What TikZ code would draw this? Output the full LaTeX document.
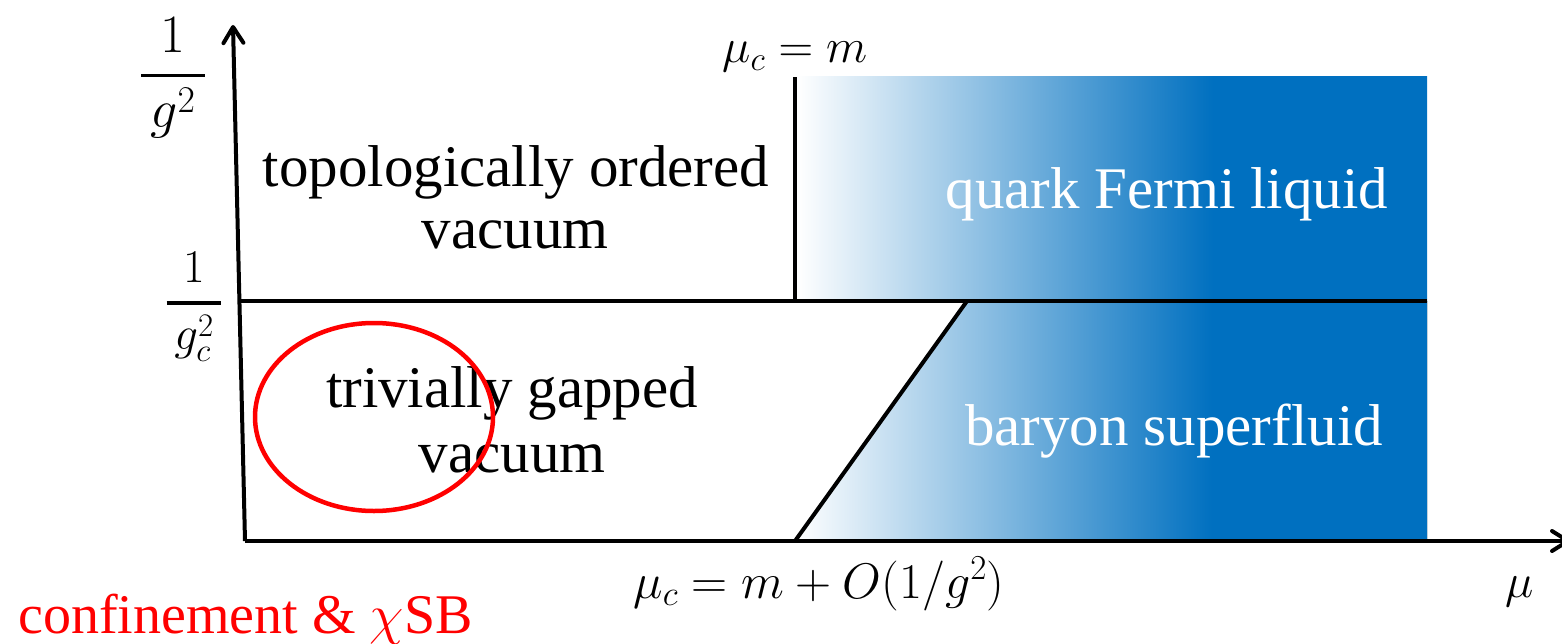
\RequirePackage{fix-cm}
\documentclass[tikz,border=0pt]{standalone}
\usepackage{amsmath}
\usepackage{fontspec}
\setmainfont{Liberation Serif}
\usetikzlibrary{arrows.meta,shapes.geometric}
\definecolor{myblue}{RGB}{0,112,192}
\definecolor{myred}{RGB}{255,0,0}
\pgfdeclarehorizontalshading{bluegrad}{100bp}{color(0bp)=(white); color(25bp)=(white); color(58bp)=(myblue); color(100bp)=(myblue)}
\begin{document}
\begin{tikzpicture}[x=1bp,y=-1bp,
  axisline/.style={line width=4bp,-{Straight Barb[length=16bp,width=20bp,round]}},
  phaseline/.style={line width=4bp},
  txt/.style={font=\fontsize{59bp}{70bp}\selectfont,anchor=base,inner sep=0pt},
  mathlbl/.style={font=\fontsize{48bp}{56bp}\selectfont,anchor=base,inner sep=0pt},
  bluefill/.style={shading=bluegrad}]
\useasboundingbox (0,0) rectangle (1562,644);
% coordinates
\coordinate (O) at (245,541);
\coordinate (Ytip) at (233,25);
\coordinate (Xtip) at (1570,541);
\coordinate (Yc) at (240,301);
\coordinate (Rend) at (1427,301);
\coordinate (Vtop) at (795,77);
\coordinate (Vbot) at (795,301);
\coordinate (Sbot) at (795,541);
\coordinate (Stop) at (967,301);
% gradient regions
\fill[bluefill] (797,77) rectangle (1427,301);
\fill[bluefill] (Sbot) -- (Stop) -- (1427,301) -- (1427,541) -- cycle;
% lines
\draw[phaseline] (Yc) -- (Rend);
\draw[phaseline] (Vbot) -- (Vtop);
\draw[phaseline] (Sbot) -- (Stop);
\draw[axisline] (O) -- (Ytip);
\draw[axisline] (O) -- (Xtip);
% texts
\node[txt] (topo1) at (516,187) {topologically ordered};
\node[txt] (topo2) at (515,248) {vacuum};
\node[txt,text=white] (qfl) at (1167,209) {quark Fermi liquid};
\node[txt] (triv1) at (512,407) {trivially gapped};
\node[txt] (triv2) at (512,472) {vacuum};
\node[txt,text=white] (bsf) at (1174,445) {baryon superfluid};
\node[txt,text=myred,anchor=base west,font=\fontsize{56bp}{66bp}\selectfont] (conf) at (18,633) {confinement \& $\chi$SB};
% math labels
\node[mathlbl] (muc) at (795,63) {$\mu_c = m$};
\node[mathlbl,font=\fontsize{50bp}{58bp}\selectfont] (muc2) at (819,598) {$\mu_c = m + O(1/g^2)$};
\node[mathlbl] (mu) at (1520,597) {$\mu$};
\node[font=\fontsize{54bp}{64bp}\selectfont,inner sep=0pt] (ginv) at (173,78) {$\genfrac{}{}{3.5bp}{0}{1}{\,g^2\,}$};
\node[font=\fontsize{47bp}{56bp}\selectfont,inner sep=0pt] (gcinv) at (194,307) {$\genfrac{}{}{3.5bp}{0}{1}{\,g_c^2\,}$};
% red ring
\node[ellipse,draw=myred,line width=4.5bp,minimum width=238bp,minimum height=188bp,inner sep=0pt] (ring) at (374,417) {};
\end{tikzpicture}
\end{document}
